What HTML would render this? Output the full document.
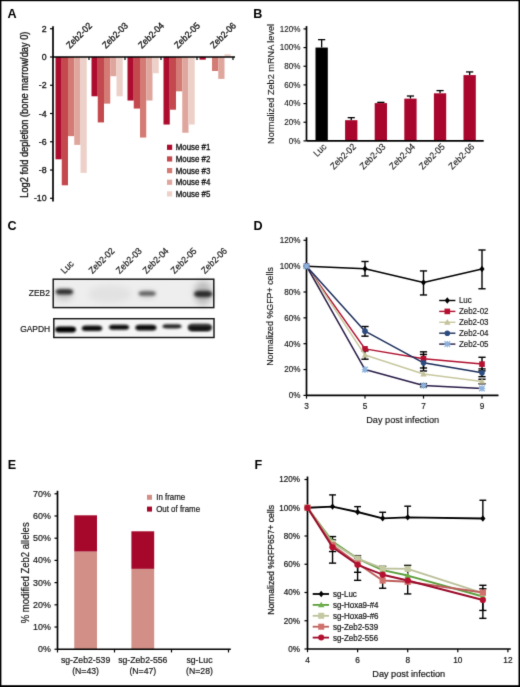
<!DOCTYPE html>
<html><head><meta charset="utf-8"><title>Figure</title>
<style>
html,body{margin:0;padding:0;background:#fff;}
body{width:520px;height:687px;overflow:hidden;}
svg{display:block;font-family:"Liberation Sans", sans-serif;}
text{stroke:#161616;}

</style></head>
<body>
<svg width="520" height="687" viewBox="0 0 520 687" font-family='"Liberation Sans", sans-serif'>
<defs><filter id="soft" filterUnits="userSpaceOnUse" x="0" y="0" width="520" height="687" color-interpolation-filters="sRGB"><feConvolveMatrix order="3" kernelMatrix="0.01134 0.08382 0.01134 0.08382 0.61935 0.08382 0.01134 0.08382 0.01134" divisor="1" edgeMode="duplicate"/></filter></defs>
<g filter="url(#soft)">
<rect x="0" y="0" width="520" height="687" fill="#fff"/>
<text x="7.60" y="18.10" font-size="12.6" text-anchor="start" font-weight="bold" fill="#000" stroke-width="0" >A</text>
<text x="253.30" y="18.10" font-size="12.6" text-anchor="start" font-weight="bold" fill="#000" stroke-width="0" >B</text>
<text x="7.60" y="229.50" font-size="12.6" text-anchor="start" font-weight="bold" fill="#000" stroke-width="0" >C</text>
<text x="253.50" y="230.20" font-size="12.6" text-anchor="start" font-weight="bold" fill="#000" stroke-width="0" >D</text>
<text x="7.80" y="468.80" font-size="12.6" text-anchor="start" font-weight="bold" fill="#000" stroke-width="0" >E</text>
<text x="254.60" y="468.80" font-size="12.6" text-anchor="start" font-weight="bold" fill="#000" stroke-width="0" >F</text>
<rect x="55.50" y="57.00" width="6.25" height="102.30" fill="#ad0c2e" />
<rect x="61.75" y="57.00" width="6.25" height="128.30" fill="#c4494f" />
<rect x="68.00" y="57.00" width="6.25" height="79.13" fill="#d37b74" />
<rect x="74.25" y="57.00" width="6.25" height="87.89" fill="#dfa69d" />
<rect x="80.50" y="57.00" width="6.25" height="115.87" fill="#edd1c9" />
<rect x="91.50" y="57.00" width="6.25" height="39.28" fill="#ad0c2e" />
<rect x="97.75" y="57.00" width="6.25" height="65.42" fill="#c4494f" />
<rect x="104.00" y="57.00" width="6.25" height="46.63" fill="#d37b74" />
<rect x="110.25" y="57.00" width="6.25" height="19.22" fill="#dfa69d" />
<rect x="116.50" y="57.00" width="6.25" height="39.28" fill="#edd1c9" />
<rect x="127.50" y="57.00" width="6.25" height="43.52" fill="#ad0c2e" />
<rect x="133.75" y="57.00" width="6.25" height="51.57" fill="#c4494f" />
<rect x="140.00" y="57.00" width="6.25" height="80.54" fill="#d37b74" />
<rect x="146.25" y="57.00" width="6.25" height="43.52" fill="#dfa69d" />
<rect x="152.50" y="57.00" width="6.25" height="16.25" fill="#edd1c9" />
<rect x="163.50" y="57.00" width="6.25" height="67.54" fill="#ad0c2e" />
<rect x="169.75" y="57.00" width="6.25" height="52.70" fill="#c4494f" />
<rect x="176.00" y="57.00" width="6.25" height="34.34" fill="#d37b74" />
<rect x="182.25" y="57.00" width="6.25" height="75.74" fill="#dfa69d" />
<rect x="188.50" y="57.00" width="6.25" height="67.54" fill="#edd1c9" />
<rect x="199.50" y="57.00" width="6.25" height="2.68" fill="#ad0c2e" />
<rect x="212.00" y="57.00" width="6.25" height="13.99" fill="#d37b74" />
<rect x="218.25" y="57.00" width="6.25" height="21.90" fill="#dfa69d" />
<rect x="224.50" y="54.17" width="6.25" height="2.83" fill="#edd1c9" />
<line x1="53.00" y1="26.24" x2="53.00" y2="201.50" stroke="#000" stroke-width="1.7" />
<line x1="50.00" y1="28.74" x2="53.00" y2="28.74" stroke="#000" stroke-width="1.2" />
<text x="46.60" y="31.74" font-size="9.50" textLength="4.89" lengthAdjust="spacingAndGlyphs" text-anchor="end" font-weight="normal" fill="#161616" stroke-width="0.34" >2</text>
<line x1="50.00" y1="57.00" x2="53.00" y2="57.00" stroke="#000" stroke-width="1.2" />
<text x="46.60" y="60.00" font-size="9.50" textLength="4.89" lengthAdjust="spacingAndGlyphs" text-anchor="end" font-weight="normal" fill="#161616" stroke-width="0.34" >0</text>
<line x1="50.00" y1="85.26" x2="53.00" y2="85.26" stroke="#000" stroke-width="1.2" />
<text x="46.60" y="88.26" font-size="9.50" textLength="7.83" lengthAdjust="spacingAndGlyphs" text-anchor="end" font-weight="normal" fill="#161616" stroke-width="0.34" >-2</text>
<line x1="50.00" y1="113.52" x2="53.00" y2="113.52" stroke="#000" stroke-width="1.2" />
<text x="46.60" y="116.52" font-size="9.50" textLength="7.83" lengthAdjust="spacingAndGlyphs" text-anchor="end" font-weight="normal" fill="#161616" stroke-width="0.34" >-4</text>
<line x1="50.00" y1="141.78" x2="53.00" y2="141.78" stroke="#000" stroke-width="1.2" />
<text x="46.60" y="144.78" font-size="9.50" textLength="7.83" lengthAdjust="spacingAndGlyphs" text-anchor="end" font-weight="normal" fill="#161616" stroke-width="0.34" >-6</text>
<line x1="50.00" y1="170.04" x2="53.00" y2="170.04" stroke="#000" stroke-width="1.2" />
<text x="46.60" y="173.04" font-size="9.50" textLength="7.83" lengthAdjust="spacingAndGlyphs" text-anchor="end" font-weight="normal" fill="#161616" stroke-width="0.34" >-8</text>
<line x1="50.00" y1="198.30" x2="53.00" y2="198.30" stroke="#000" stroke-width="1.2" />
<text x="46.60" y="201.30" font-size="9.50" textLength="12.72" lengthAdjust="spacingAndGlyphs" text-anchor="end" font-weight="normal" fill="#161616" stroke-width="0.34" >-10</text>
<line x1="53.00" y1="57.00" x2="235.00" y2="57.00" stroke="#000" stroke-width="1.7" />
<line x1="89.00" y1="57.00" x2="89.00" y2="60.00" stroke="#000" stroke-width="1.2" />
<line x1="125.00" y1="57.00" x2="125.00" y2="60.00" stroke="#000" stroke-width="1.2" />
<line x1="161.00" y1="57.00" x2="161.00" y2="60.00" stroke="#000" stroke-width="1.2" />
<line x1="197.00" y1="57.00" x2="197.00" y2="60.00" stroke="#000" stroke-width="1.2" />
<line x1="233.00" y1="57.00" x2="233.00" y2="60.00" stroke="#000" stroke-width="1.2" />
<text transform="translate(69.90,49.00) rotate(-45)" font-size="9.29" textLength="32.03" lengthAdjust="spacingAndGlyphs" text-anchor="start" fill="#161616" stroke-width="0.34">Zeb2-02</text>
<text transform="translate(105.90,49.00) rotate(-45)" font-size="9.29" textLength="32.03" lengthAdjust="spacingAndGlyphs" text-anchor="start" fill="#161616" stroke-width="0.34">Zeb2-03</text>
<text transform="translate(141.90,49.00) rotate(-45)" font-size="9.29" textLength="32.03" lengthAdjust="spacingAndGlyphs" text-anchor="start" fill="#161616" stroke-width="0.34">Zeb2-04</text>
<text transform="translate(177.90,49.00) rotate(-45)" font-size="9.29" textLength="32.03" lengthAdjust="spacingAndGlyphs" text-anchor="start" fill="#161616" stroke-width="0.34">Zeb2-05</text>
<text transform="translate(213.90,49.00) rotate(-45)" font-size="9.29" textLength="32.03" lengthAdjust="spacingAndGlyphs" text-anchor="start" fill="#161616" stroke-width="0.34">Zeb2-06</text>
<text transform="translate(28.30,114.70) rotate(-90)" font-size="9.99" textLength="166.09" lengthAdjust="spacingAndGlyphs" text-anchor="middle" fill="#161616" stroke-width="0.34">Log2 fold depletion (bone marrow/day 0)</text>
<rect x="167.00" y="144.70" width="5.20" height="5.20" fill="#ad0c2e" />
<text x="175.80" y="150.20" font-size="8.48" textLength="34.47" lengthAdjust="spacingAndGlyphs" text-anchor="start" font-weight="normal" fill="#161616" stroke-width="0.34" >Mouse #1</text>
<rect x="167.00" y="156.35" width="5.20" height="5.20" fill="#c4494f" />
<text x="175.80" y="161.85" font-size="8.48" textLength="34.47" lengthAdjust="spacingAndGlyphs" text-anchor="start" font-weight="normal" fill="#161616" stroke-width="0.34" >Mouse #2</text>
<rect x="167.00" y="168.00" width="5.20" height="5.20" fill="#d37b74" />
<text x="175.80" y="173.50" font-size="8.48" textLength="34.47" lengthAdjust="spacingAndGlyphs" text-anchor="start" font-weight="normal" fill="#161616" stroke-width="0.34" >Mouse #3</text>
<rect x="167.00" y="179.65" width="5.20" height="5.20" fill="#dfa69d" />
<text x="175.80" y="185.15" font-size="8.48" textLength="34.47" lengthAdjust="spacingAndGlyphs" text-anchor="start" font-weight="normal" fill="#161616" stroke-width="0.34" >Mouse #4</text>
<rect x="167.00" y="191.30" width="5.20" height="5.20" fill="#edd1c9" />
<text x="175.80" y="196.80" font-size="8.48" textLength="34.47" lengthAdjust="spacingAndGlyphs" text-anchor="start" font-weight="normal" fill="#161616" stroke-width="0.34" >Mouse #5</text>
<line x1="321.65" y1="39.64" x2="321.65" y2="47.57" stroke="#000" stroke-width="1.3" />
<line x1="318.05" y1="39.64" x2="325.25" y2="39.64" stroke="#000" stroke-width="1.3" />
<rect x="315.50" y="47.57" width="12.30" height="93.33" fill="#000" />
<text transform="translate(326.95,147.40) rotate(-45)" font-size="9.29" textLength="13.87" lengthAdjust="spacingAndGlyphs" text-anchor="end" fill="#161616" stroke-width="0.12">Luc</text>
<line x1="351.25" y1="117.66" x2="351.25" y2="120.18" stroke="#000" stroke-width="1.3" />
<line x1="347.65" y1="117.66" x2="354.85" y2="117.66" stroke="#000" stroke-width="1.3" />
<rect x="345.10" y="120.18" width="12.30" height="20.72" fill="#a8062c" />
<text transform="translate(356.55,147.40) rotate(-45)" font-size="9.29" textLength="32.03" lengthAdjust="spacingAndGlyphs" text-anchor="end" fill="#161616" stroke-width="0.12">Zeb2-02</text>
<line x1="380.85" y1="102.35" x2="380.85" y2="103.10" stroke="#000" stroke-width="1.3" />
<line x1="377.25" y1="102.35" x2="384.45" y2="102.35" stroke="#000" stroke-width="1.3" />
<rect x="374.70" y="103.10" width="12.30" height="37.80" fill="#a8062c" />
<text transform="translate(386.15,147.40) rotate(-45)" font-size="9.29" textLength="32.03" lengthAdjust="spacingAndGlyphs" text-anchor="end" fill="#161616" stroke-width="0.12">Zeb2-03</text>
<line x1="410.45" y1="96.01" x2="410.45" y2="98.62" stroke="#000" stroke-width="1.3" />
<line x1="406.85" y1="96.01" x2="414.05" y2="96.01" stroke="#000" stroke-width="1.3" />
<rect x="404.30" y="98.62" width="12.30" height="42.28" fill="#a8062c" />
<text transform="translate(415.75,147.40) rotate(-45)" font-size="9.29" textLength="32.03" lengthAdjust="spacingAndGlyphs" text-anchor="end" fill="#161616" stroke-width="0.12">Zeb2-04</text>
<line x1="440.05" y1="90.60" x2="440.05" y2="93.30" stroke="#000" stroke-width="1.3" />
<line x1="436.45" y1="90.60" x2="443.65" y2="90.60" stroke="#000" stroke-width="1.3" />
<rect x="433.90" y="93.30" width="12.30" height="47.60" fill="#a8062c" />
<text transform="translate(445.35,147.40) rotate(-45)" font-size="9.29" textLength="32.03" lengthAdjust="spacingAndGlyphs" text-anchor="end" fill="#161616" stroke-width="0.12">Zeb2-05</text>
<line x1="469.65" y1="71.93" x2="469.65" y2="75.10" stroke="#000" stroke-width="1.3" />
<line x1="466.05" y1="71.93" x2="473.25" y2="71.93" stroke="#000" stroke-width="1.3" />
<rect x="463.50" y="75.10" width="12.30" height="65.80" fill="#a8062c" />
<text transform="translate(474.95,147.40) rotate(-45)" font-size="9.29" textLength="32.03" lengthAdjust="spacingAndGlyphs" text-anchor="end" fill="#161616" stroke-width="0.12">Zeb2-06</text>
<line x1="306.50" y1="26.10" x2="306.50" y2="140.90" stroke="#000" stroke-width="1.7" />
<line x1="306.50" y1="140.90" x2="483.70" y2="140.90" stroke="#000" stroke-width="1.7" />
<line x1="303.50" y1="140.90" x2="306.50" y2="140.90" stroke="#000" stroke-width="1.2" />
<text x="300.40" y="143.80" font-size="8.75" textLength="11.71" lengthAdjust="spacingAndGlyphs" text-anchor="end" font-weight="normal" fill="#161616" stroke-width="0.12" >0%</text>
<line x1="303.50" y1="122.23" x2="306.50" y2="122.23" stroke="#000" stroke-width="1.2" />
<text x="300.40" y="125.13" font-size="8.75" textLength="16.21" lengthAdjust="spacingAndGlyphs" text-anchor="end" font-weight="normal" fill="#161616" stroke-width="0.12" >20%</text>
<line x1="303.50" y1="103.57" x2="306.50" y2="103.57" stroke="#000" stroke-width="1.2" />
<text x="300.40" y="106.47" font-size="8.75" textLength="16.21" lengthAdjust="spacingAndGlyphs" text-anchor="end" font-weight="normal" fill="#161616" stroke-width="0.12" >40%</text>
<line x1="303.50" y1="84.90" x2="306.50" y2="84.90" stroke="#000" stroke-width="1.2" />
<text x="300.40" y="87.80" font-size="8.75" textLength="16.21" lengthAdjust="spacingAndGlyphs" text-anchor="end" font-weight="normal" fill="#161616" stroke-width="0.12" >60%</text>
<line x1="303.50" y1="66.24" x2="306.50" y2="66.24" stroke="#000" stroke-width="1.2" />
<text x="300.40" y="69.14" font-size="8.75" textLength="16.21" lengthAdjust="spacingAndGlyphs" text-anchor="end" font-weight="normal" fill="#161616" stroke-width="0.12" >80%</text>
<line x1="303.50" y1="47.57" x2="306.50" y2="47.57" stroke="#000" stroke-width="1.2" />
<text x="300.40" y="50.47" font-size="8.75" textLength="20.72" lengthAdjust="spacingAndGlyphs" text-anchor="end" font-weight="normal" fill="#161616" stroke-width="0.12" >100%</text>
<line x1="303.50" y1="28.90" x2="306.50" y2="28.90" stroke="#000" stroke-width="1.2" />
<text x="300.40" y="31.80" font-size="8.75" textLength="20.72" lengthAdjust="spacingAndGlyphs" text-anchor="end" font-weight="normal" fill="#161616" stroke-width="0.12" >120%</text>
<text transform="translate(274.10,83.90) rotate(-90)" font-size="9.88" textLength="120.01" lengthAdjust="spacingAndGlyphs" text-anchor="middle" fill="#161616" stroke-width="0.12">Normalized Zeb2 mRNA level</text>
<defs><filter id="blur1" x="-50%" y="-50%" width="200%" height="200%"><feGaussianBlur stdDeviation="1.4"/></filter><filter id="blur2" x="-50%" y="-50%" width="200%" height="200%"><feGaussianBlur stdDeviation="0.9"/></filter><filter id="blur3" x="-50%" y="-50%" width="200%" height="200%"><feGaussianBlur stdDeviation="3"/></filter><filter id="blur4" x="-50%" y="-50%" width="200%" height="200%"><feGaussianBlur stdDeviation="1.5"/></filter><filter id="blur5" x="-50%" y="-50%" width="200%" height="200%"><feGaussianBlur stdDeviation="0.95"/></filter></defs>
<rect x="53.20" y="279.20" width="160.60" height="28.40" fill="#eeeeee" />
<ellipse cx="110" cy="294" rx="22" ry="9" fill="#e2e2e2" filter="url(#blur3)"/>
<ellipse cx="64" cy="295" rx="9" ry="5" fill="#c4c4c4" filter="url(#blur3)"/>
<ellipse cx="203" cy="293" rx="9" ry="12" fill="#bcbcbc" filter="url(#blur3)"/>
<ellipse cx="147" cy="294" rx="8" ry="4" fill="#cfcfcf" filter="url(#blur3)"/>
<rect x="55.60" y="289.00" width="17.60" height="5.60" rx="5.00" ry="2.80" fill="#2e2e2e" filter="url(#blur4)"/>
<rect x="138.60" y="291.20" width="17.20" height="4.60" rx="5.00" ry="2.30" fill="#5e5e5e" filter="url(#blur4)"/>
<rect x="194.00" y="290.80" width="18.40" height="6.40" rx="5.00" ry="3.20" fill="#2a2a2a" filter="url(#blur4)"/>
<rect x="53.2" y="279.2" width="160.6" height="28.4" fill="none" stroke="#161616" stroke-width="1.45"/>
<rect x="53.80" y="318.70" width="160.20" height="18.80" fill="#f5f5f5" />
<path d="M55.20 329.60 C55.20 327.20 57.36 326.60 60.61 326.60 L70.59 326.60 C73.84 326.60 76.00 327.20 76.00 329.60 C76.00 332.20 73.84 332.60 70.59 332.60 L60.61 332.60 C57.36 332.60 55.20 332.20 55.20 329.60Z" fill="#060606" filter="url(#blur5)"/>
<path d="M81.80 328.15 C81.80 326.00 83.92 325.40 87.10 325.40 L96.90 325.40 C100.08 325.40 102.20 326.00 102.20 328.15 C102.20 330.50 100.08 330.90 96.90 330.90 L87.10 330.90 C83.92 330.90 81.80 330.50 81.80 328.15Z" fill="#0e0e0e" filter="url(#blur5)"/>
<path d="M109.00 327.30 C109.00 325.40 111.09 324.80 114.23 324.80 L123.87 324.80 C127.01 324.80 129.10 325.40 129.10 327.30 C129.10 329.40 127.01 329.80 123.87 329.80 L114.23 329.80 C111.09 329.80 109.00 329.40 109.00 327.30Z" fill="#101010" filter="url(#blur5)"/>
<path d="M135.40 327.65 C135.40 325.40 137.58 324.80 140.86 324.80 L150.94 324.80 C154.22 324.80 156.40 325.40 156.40 327.65 C156.40 330.10 154.22 330.50 150.94 330.50 L140.86 330.50 C137.58 330.50 135.40 330.10 135.40 327.65Z" fill="#0a0a0a" filter="url(#blur5)"/>
<path d="M162.50 326.30 C162.50 324.80 164.48 324.20 167.44 324.20 L176.56 324.20 C179.52 324.20 181.50 324.80 181.50 326.30 C181.50 328.00 179.52 328.40 176.56 328.40 L167.44 328.40 C164.48 328.40 162.50 328.00 162.50 326.30Z" fill="#262626" filter="url(#blur5)"/>
<path d="M188.00 327.20 C188.00 324.00 190.46 323.40 194.16 323.40 L205.54 323.40 C209.24 323.40 211.70 324.00 211.70 327.20 C211.70 330.60 209.24 331.00 205.54 331.00 L194.16 331.00 C190.46 331.00 188.00 330.60 188.00 327.20Z" fill="#5a5a5a" filter="url(#blur5)"/>
<path d="M188.40 326.60 C188.40 326.20 190.78 325.60 194.35 325.60 L205.35 325.60 C208.92 325.60 211.30 326.20 211.30 326.60 C211.30 330.60 208.92 331.00 205.35 331.00 L194.35 331.00 C190.78 331.00 188.40 330.60 188.40 326.60Z" fill="#141414" filter="url(#blur5)"/>
<rect x="53.8" y="318.7" width="160.2" height="18.8" fill="none" stroke="#161616" stroke-width="1.45"/>
<text x="49.90" y="296.30" font-size="9.13" textLength="21.13" lengthAdjust="spacingAndGlyphs" text-anchor="end" font-weight="normal" fill="#161616" stroke-width="0.2" >ZEB2</text>
<text x="50.20" y="331.80" font-size="9.13" textLength="30.05" lengthAdjust="spacingAndGlyphs" text-anchor="end" font-weight="normal" fill="#161616" stroke-width="0.2" >GAPDH</text>
<text transform="translate(64.50,274.20) rotate(-45)" font-size="9.29" textLength="13.87" lengthAdjust="spacingAndGlyphs" text-anchor="start" fill="#161616" stroke-width="0.2">Luc</text>
<text transform="translate(92.40,274.20) rotate(-45)" font-size="9.29" textLength="32.03" lengthAdjust="spacingAndGlyphs" text-anchor="start" fill="#161616" stroke-width="0.2">Zeb2-02</text>
<text transform="translate(119.80,274.20) rotate(-45)" font-size="9.29" textLength="32.03" lengthAdjust="spacingAndGlyphs" text-anchor="start" fill="#161616" stroke-width="0.2">Zeb2-03</text>
<text transform="translate(146.50,274.20) rotate(-45)" font-size="9.29" textLength="32.03" lengthAdjust="spacingAndGlyphs" text-anchor="start" fill="#161616" stroke-width="0.2">Zeb2-04</text>
<text transform="translate(174.60,274.20) rotate(-45)" font-size="9.29" textLength="32.03" lengthAdjust="spacingAndGlyphs" text-anchor="start" fill="#161616" stroke-width="0.2">Zeb2-05</text>
<text transform="translate(204.90,274.20) rotate(-45)" font-size="9.29" textLength="32.03" lengthAdjust="spacingAndGlyphs" text-anchor="start" fill="#161616" stroke-width="0.2">Zeb2-06</text>
<line x1="306.50" y1="237.30" x2="306.50" y2="395.40" stroke="#000" stroke-width="1.7" />
<line x1="306.50" y1="395.40" x2="498.50" y2="395.40" stroke="#000" stroke-width="1.7" />
<line x1="303.50" y1="395.40" x2="306.50" y2="395.40" stroke="#000" stroke-width="1.2" />
<text x="300.40" y="398.30" font-size="8.75" textLength="11.71" lengthAdjust="spacingAndGlyphs" text-anchor="end" font-weight="normal" fill="#161616" stroke-width="0.16" >0%</text>
<line x1="303.50" y1="369.55" x2="306.50" y2="369.55" stroke="#000" stroke-width="1.2" />
<text x="300.40" y="372.45" font-size="8.75" textLength="16.21" lengthAdjust="spacingAndGlyphs" text-anchor="end" font-weight="normal" fill="#161616" stroke-width="0.16" >20%</text>
<line x1="303.50" y1="343.70" x2="306.50" y2="343.70" stroke="#000" stroke-width="1.2" />
<text x="300.40" y="346.60" font-size="8.75" textLength="16.21" lengthAdjust="spacingAndGlyphs" text-anchor="end" font-weight="normal" fill="#161616" stroke-width="0.16" >40%</text>
<line x1="303.50" y1="317.85" x2="306.50" y2="317.85" stroke="#000" stroke-width="1.2" />
<text x="300.40" y="320.75" font-size="8.75" textLength="16.21" lengthAdjust="spacingAndGlyphs" text-anchor="end" font-weight="normal" fill="#161616" stroke-width="0.16" >60%</text>
<line x1="303.50" y1="292.00" x2="306.50" y2="292.00" stroke="#000" stroke-width="1.2" />
<text x="300.40" y="294.90" font-size="8.75" textLength="16.21" lengthAdjust="spacingAndGlyphs" text-anchor="end" font-weight="normal" fill="#161616" stroke-width="0.16" >80%</text>
<line x1="303.50" y1="266.15" x2="306.50" y2="266.15" stroke="#000" stroke-width="1.2" />
<text x="300.40" y="269.05" font-size="8.75" textLength="20.72" lengthAdjust="spacingAndGlyphs" text-anchor="end" font-weight="normal" fill="#161616" stroke-width="0.16" >100%</text>
<line x1="303.50" y1="240.30" x2="306.50" y2="240.30" stroke="#000" stroke-width="1.2" />
<text x="300.40" y="243.20" font-size="8.75" textLength="20.72" lengthAdjust="spacingAndGlyphs" text-anchor="end" font-weight="normal" fill="#161616" stroke-width="0.16" >120%</text>
<line x1="306.50" y1="395.40" x2="306.50" y2="398.60" stroke="#000" stroke-width="1.2" />
<text x="306.50" y="408.80" font-size="8.96" textLength="4.62" lengthAdjust="spacingAndGlyphs" text-anchor="middle" font-weight="normal" fill="#161616" stroke-width="0.16" >3</text>
<line x1="365.00" y1="395.40" x2="365.00" y2="398.60" stroke="#000" stroke-width="1.2" />
<text x="365.00" y="408.80" font-size="8.96" textLength="4.62" lengthAdjust="spacingAndGlyphs" text-anchor="middle" font-weight="normal" fill="#161616" stroke-width="0.16" >5</text>
<line x1="423.50" y1="395.40" x2="423.50" y2="398.60" stroke="#000" stroke-width="1.2" />
<text x="423.50" y="408.80" font-size="8.96" textLength="4.62" lengthAdjust="spacingAndGlyphs" text-anchor="middle" font-weight="normal" fill="#161616" stroke-width="0.16" >7</text>
<line x1="482.00" y1="395.40" x2="482.00" y2="398.60" stroke="#000" stroke-width="1.2" />
<text x="482.00" y="408.80" font-size="8.96" textLength="4.62" lengthAdjust="spacingAndGlyphs" text-anchor="middle" font-weight="normal" fill="#161616" stroke-width="0.16" >9</text>
<text x="402.70" y="423.00" font-size="9.91" textLength="72.97" lengthAdjust="spacingAndGlyphs" text-anchor="middle" font-weight="normal" fill="#161616" stroke-width="0.16" >Day post infection</text>
<text transform="translate(273.30,316.50) rotate(-90)" font-size="9.57" textLength="98.72" lengthAdjust="spacingAndGlyphs" text-anchor="middle" fill="#161616" stroke-width="0.16">Normalized %GFP+ cells</text>
<line x1="365.00" y1="261.50" x2="365.00" y2="275.97" stroke="#000" stroke-width="1.4" />
<line x1="361.40" y1="261.50" x2="368.60" y2="261.50" stroke="#000" stroke-width="1.4" />
<line x1="361.40" y1="275.97" x2="368.60" y2="275.97" stroke="#000" stroke-width="1.4" />
<line x1="423.50" y1="270.93" x2="423.50" y2="294.97" stroke="#000" stroke-width="1.4" />
<line x1="419.90" y1="270.93" x2="427.10" y2="270.93" stroke="#000" stroke-width="1.4" />
<line x1="419.90" y1="294.97" x2="427.10" y2="294.97" stroke="#000" stroke-width="1.4" />
<line x1="482.00" y1="249.99" x2="482.00" y2="288.77" stroke="#000" stroke-width="1.4" />
<line x1="478.40" y1="249.99" x2="485.60" y2="249.99" stroke="#000" stroke-width="1.4" />
<line x1="478.40" y1="288.77" x2="485.60" y2="288.77" stroke="#000" stroke-width="1.4" />
<line x1="365.00" y1="326.51" x2="365.00" y2="336.20" stroke="#000" stroke-width="1.4" />
<line x1="361.40" y1="326.51" x2="368.60" y2="326.51" stroke="#000" stroke-width="1.4" />
<line x1="361.40" y1="336.20" x2="368.60" y2="336.20" stroke="#000" stroke-width="1.4" />
<line x1="365.00" y1="350.81" x2="365.00" y2="359.21" stroke="#000" stroke-width="1.4" />
<line x1="361.40" y1="350.81" x2="368.60" y2="350.81" stroke="#000" stroke-width="1.4" />
<line x1="361.40" y1="359.21" x2="368.60" y2="359.21" stroke="#000" stroke-width="1.4" />
<line x1="423.50" y1="351.84" x2="423.50" y2="368.00" stroke="#000" stroke-width="1.4" />
<line x1="419.90" y1="351.84" x2="427.10" y2="351.84" stroke="#000" stroke-width="1.4" />
<line x1="419.90" y1="368.00" x2="427.10" y2="368.00" stroke="#000" stroke-width="1.4" />
<line x1="423.50" y1="354.43" x2="423.50" y2="370.97" stroke="#000" stroke-width="1.4" />
<line x1="419.90" y1="354.43" x2="427.10" y2="354.43" stroke="#000" stroke-width="1.4" />
<line x1="419.90" y1="370.97" x2="427.10" y2="370.97" stroke="#000" stroke-width="1.4" />
<line x1="482.00" y1="357.27" x2="482.00" y2="370.84" stroke="#000" stroke-width="1.4" />
<line x1="478.40" y1="357.27" x2="485.60" y2="357.27" stroke="#000" stroke-width="1.4" />
<line x1="478.40" y1="370.84" x2="485.60" y2="370.84" stroke="#000" stroke-width="1.4" />
<line x1="482.00" y1="368.90" x2="482.00" y2="376.66" stroke="#000" stroke-width="1.4" />
<line x1="478.40" y1="368.90" x2="485.60" y2="368.90" stroke="#000" stroke-width="1.4" />
<line x1="478.40" y1="376.66" x2="485.60" y2="376.66" stroke="#000" stroke-width="1.4" />
<line x1="482.00" y1="379.24" x2="482.00" y2="383.77" stroke="#000" stroke-width="1.4" />
<line x1="478.40" y1="379.24" x2="485.60" y2="379.24" stroke="#000" stroke-width="1.4" />
<line x1="478.40" y1="383.77" x2="485.60" y2="383.77" stroke="#000" stroke-width="1.4" />
<line x1="423.50" y1="383.77" x2="423.50" y2="387.00" stroke="#000" stroke-width="1.4" />
<line x1="419.90" y1="383.77" x2="427.10" y2="383.77" stroke="#000" stroke-width="1.4" />
<line x1="419.90" y1="387.00" x2="427.10" y2="387.00" stroke="#000" stroke-width="1.4" />
<polyline points="306.50,266.15 365.00,268.74 423.50,282.56 482.00,268.99" fill="none" stroke="#000000" stroke-width="1.5" stroke-linejoin="round"/>
<path d="M306.50 262.95 L309.10 266.15 L306.50 269.35 L303.90 266.15Z" fill="#000000"/>
<path d="M365.00 265.54 L367.60 268.74 L365.00 271.94 L362.40 268.74Z" fill="#000000"/>
<path d="M423.50 279.36 L426.10 282.56 L423.50 285.76 L420.90 282.56Z" fill="#000000"/>
<path d="M482.00 265.79 L484.60 268.99 L482.00 272.19 L479.40 268.99Z" fill="#000000"/>
<polyline points="306.50,266.15 365.00,348.87 423.50,358.69 482.00,364.12" fill="none" stroke="#b0102f" stroke-width="1.5" stroke-linejoin="round"/>
<rect x="303.70" y="263.35" width="5.60" height="5.60" fill="#b5102f"/>
<rect x="362.20" y="346.07" width="5.60" height="5.60" fill="#b5102f"/>
<rect x="420.70" y="355.89" width="5.60" height="5.60" fill="#b5102f"/>
<rect x="479.20" y="361.32" width="5.60" height="5.60" fill="#b5102f"/>
<polyline points="306.50,266.15 365.00,355.07 423.50,374.07 482.00,381.44" fill="none" stroke="#c8c79e" stroke-width="1.5" stroke-linejoin="round"/>
<path d="M306.50 262.95 L309.70 268.55 L303.30 268.55Z" fill="#c3c29a"/>
<path d="M365.00 351.87 L368.20 357.47 L361.80 357.47Z" fill="#c3c29a"/>
<path d="M423.50 370.87 L426.70 376.47 L420.30 376.47Z" fill="#c3c29a"/>
<path d="M482.00 378.24 L485.20 383.84 L478.80 383.84Z" fill="#c3c29a"/>
<polyline points="306.50,266.15 365.00,331.16 423.50,362.83 482.00,372.78" fill="none" stroke="#1c2f5a" stroke-width="1.5" stroke-linejoin="round"/>
<circle cx="306.50" cy="266.15" r="2.80" fill="#2c4c80"/>
<circle cx="365.00" cy="331.16" r="2.80" fill="#2c4c80"/>
<circle cx="423.50" cy="362.83" r="2.80" fill="#2c4c80"/>
<circle cx="482.00" cy="372.78" r="2.80" fill="#2c4c80"/>
<polyline points="306.50,266.15 365.00,369.55 423.50,385.45 482.00,388.42" fill="none" stroke="#2a1c48" stroke-width="1.5" stroke-linejoin="round"/>
<path d="M303.70 263.35 L309.30 268.95 M309.30 263.35 L303.70 268.95 M306.50 262.95 L306.50 269.35 M303.30 266.15 L309.70 266.15" stroke="#8db3dd" stroke-width="1.3" fill="none"/>
<rect x="304.50" y="264.15" width="4" height="4" fill="#8db3dd" opacity="0.6"/>
<path d="M362.20 366.75 L367.80 372.35 M367.80 366.75 L362.20 372.35 M365.00 366.35 L365.00 372.75 M361.80 369.55 L368.20 369.55" stroke="#8db3dd" stroke-width="1.3" fill="none"/>
<rect x="363.00" y="367.55" width="4" height="4" fill="#8db3dd" opacity="0.6"/>
<path d="M420.70 382.65 L426.30 388.25 M426.30 382.65 L420.70 388.25 M423.50 382.25 L423.50 388.65 M420.30 385.45 L426.70 385.45" stroke="#8db3dd" stroke-width="1.3" fill="none"/>
<rect x="421.50" y="383.45" width="4" height="4" fill="#8db3dd" opacity="0.6"/>
<path d="M479.20 385.62 L484.80 391.22 M484.80 385.62 L479.20 391.22 M482.00 385.22 L482.00 391.62 M478.80 388.42 L485.20 388.42" stroke="#8db3dd" stroke-width="1.3" fill="none"/>
<rect x="480.00" y="386.42" width="4" height="4" fill="#8db3dd" opacity="0.6"/>
<line x1="439.20" y1="300.50" x2="455.40" y2="300.50" stroke="#000000" stroke-width="1.4" />
<path d="M447.30 297.30 L449.90 300.50 L447.30 303.70 L444.70 300.50Z" fill="#000000"/>
<text x="458.90" y="303.40" font-size="8.59" textLength="12.82" lengthAdjust="spacingAndGlyphs" text-anchor="start" font-weight="normal" fill="#161616" stroke-width="0.16" >Luc</text>
<line x1="439.20" y1="311.40" x2="455.40" y2="311.40" stroke="#b0102f" stroke-width="1.4" />
<rect x="444.50" y="308.60" width="5.60" height="5.60" fill="#b5102f"/>
<text x="458.90" y="314.30" font-size="8.59" textLength="29.61" lengthAdjust="spacingAndGlyphs" text-anchor="start" font-weight="normal" fill="#161616" stroke-width="0.16" >Zeb2-02</text>
<line x1="439.20" y1="322.30" x2="455.40" y2="322.30" stroke="#c8c79e" stroke-width="1.4" />
<path d="M447.30 319.10 L450.50 324.70 L444.10 324.70Z" fill="#c3c29a"/>
<text x="458.90" y="325.20" font-size="8.59" textLength="29.61" lengthAdjust="spacingAndGlyphs" text-anchor="start" font-weight="normal" fill="#161616" stroke-width="0.16" >Zeb2-03</text>
<line x1="439.20" y1="333.20" x2="455.40" y2="333.20" stroke="#1c2f5a" stroke-width="1.4" />
<circle cx="447.30" cy="333.20" r="2.80" fill="#2c4c80"/>
<text x="458.90" y="336.10" font-size="8.59" textLength="29.61" lengthAdjust="spacingAndGlyphs" text-anchor="start" font-weight="normal" fill="#161616" stroke-width="0.16" >Zeb2-04</text>
<line x1="439.20" y1="344.10" x2="455.40" y2="344.10" stroke="#2a1c48" stroke-width="1.4" />
<path d="M444.50 341.30 L450.10 346.90 M450.10 341.30 L444.50 346.90 M447.30 340.90 L447.30 347.30 M444.10 344.10 L450.50 344.10" stroke="#8db3dd" stroke-width="1.3" fill="none"/>
<rect x="445.30" y="342.10" width="4" height="4" fill="#8db3dd" opacity="0.6"/>
<text x="458.90" y="347.00" font-size="8.59" textLength="29.61" lengthAdjust="spacingAndGlyphs" text-anchor="start" font-weight="normal" fill="#161616" stroke-width="0.16" >Zeb2-05</text>
<rect x="74.25" y="551.53" width="22.75" height="97.72" fill="#d18f87" />
<rect x="74.25" y="515.32" width="22.75" height="36.20" fill="#a5082b" />
<rect x="131.40" y="568.85" width="22.80" height="80.40" fill="#d18f87" />
<rect x="131.40" y="531.31" width="22.80" height="37.53" fill="#a5082b" />
<line x1="57.50" y1="490.78" x2="57.50" y2="649.25" stroke="#000" stroke-width="1.7" />
<line x1="57.50" y1="649.25" x2="230.80" y2="649.25" stroke="#000" stroke-width="1.7" />
<line x1="54.50" y1="649.25" x2="57.50" y2="649.25" stroke="#000" stroke-width="1.2" />
<text x="50.80" y="652.25" font-size="9.61" textLength="12.86" lengthAdjust="spacingAndGlyphs" text-anchor="end" font-weight="normal" fill="#161616" stroke-width="0.2" >0%</text>
<line x1="54.50" y1="627.04" x2="57.50" y2="627.04" stroke="#000" stroke-width="1.2" />
<text x="50.80" y="630.04" font-size="9.61" textLength="17.81" lengthAdjust="spacingAndGlyphs" text-anchor="end" font-weight="normal" fill="#161616" stroke-width="0.2" >10%</text>
<line x1="54.50" y1="604.83" x2="57.50" y2="604.83" stroke="#000" stroke-width="1.2" />
<text x="50.80" y="607.83" font-size="9.61" textLength="17.81" lengthAdjust="spacingAndGlyphs" text-anchor="end" font-weight="normal" fill="#161616" stroke-width="0.2" >20%</text>
<line x1="54.50" y1="582.62" x2="57.50" y2="582.62" stroke="#000" stroke-width="1.2" />
<text x="50.80" y="585.62" font-size="9.61" textLength="17.81" lengthAdjust="spacingAndGlyphs" text-anchor="end" font-weight="normal" fill="#161616" stroke-width="0.2" >30%</text>
<line x1="54.50" y1="560.41" x2="57.50" y2="560.41" stroke="#000" stroke-width="1.2" />
<text x="50.80" y="563.41" font-size="9.61" textLength="17.81" lengthAdjust="spacingAndGlyphs" text-anchor="end" font-weight="normal" fill="#161616" stroke-width="0.2" >40%</text>
<line x1="54.50" y1="538.20" x2="57.50" y2="538.20" stroke="#000" stroke-width="1.2" />
<text x="50.80" y="541.20" font-size="9.61" textLength="17.81" lengthAdjust="spacingAndGlyphs" text-anchor="end" font-weight="normal" fill="#161616" stroke-width="0.2" >50%</text>
<line x1="54.50" y1="515.99" x2="57.50" y2="515.99" stroke="#000" stroke-width="1.2" />
<text x="50.80" y="518.99" font-size="9.61" textLength="17.81" lengthAdjust="spacingAndGlyphs" text-anchor="end" font-weight="normal" fill="#161616" stroke-width="0.2" >60%</text>
<line x1="54.50" y1="493.78" x2="57.50" y2="493.78" stroke="#000" stroke-width="1.2" />
<text x="50.80" y="496.78" font-size="9.61" textLength="17.81" lengthAdjust="spacingAndGlyphs" text-anchor="end" font-weight="normal" fill="#161616" stroke-width="0.2" >70%</text>
<line x1="57.50" y1="649.25" x2="57.50" y2="652.45" stroke="#000" stroke-width="1.2" />
<line x1="114.50" y1="649.25" x2="114.50" y2="652.45" stroke="#000" stroke-width="1.2" />
<line x1="171.50" y1="649.25" x2="171.50" y2="652.45" stroke="#000" stroke-width="1.2" />
<line x1="228.50" y1="649.25" x2="228.50" y2="652.45" stroke="#000" stroke-width="1.2" />
<text x="85.60" y="663.00" font-size="9.40" textLength="49.33" lengthAdjust="spacingAndGlyphs" text-anchor="middle" font-weight="normal" fill="#161616" stroke-width="0.2" >sg-Zeb2-539</text>
<text x="85.60" y="674.30" font-size="9.40" textLength="26.84" lengthAdjust="spacingAndGlyphs" text-anchor="middle" font-weight="normal" fill="#161616" stroke-width="0.2" >(N=43)</text>
<text x="142.80" y="663.00" font-size="9.40" textLength="49.33" lengthAdjust="spacingAndGlyphs" text-anchor="middle" font-weight="normal" fill="#161616" stroke-width="0.2" >sg-Zeb2-556</text>
<text x="142.80" y="674.30" font-size="9.40" textLength="26.84" lengthAdjust="spacingAndGlyphs" text-anchor="middle" font-weight="normal" fill="#161616" stroke-width="0.2" >(N=47)</text>
<text x="199.50" y="663.00" font-size="9.40" textLength="26.11" lengthAdjust="spacingAndGlyphs" text-anchor="middle" font-weight="normal" fill="#161616" stroke-width="0.2" >sg-Luc</text>
<text x="199.50" y="674.30" font-size="9.40" textLength="26.84" lengthAdjust="spacingAndGlyphs" text-anchor="middle" font-weight="normal" fill="#161616" stroke-width="0.2" >(N=28)</text>
<text transform="translate(28.60,572.80) rotate(-90)" font-size="10.26" textLength="100.86" lengthAdjust="spacingAndGlyphs" text-anchor="middle" fill="#161616" stroke-width="0.2">% modified Zeb2 alleles</text>
<rect x="147.00" y="494.80" width="5.00" height="5.00" fill="#d18f87" />
<rect x="147.00" y="506.60" width="5.00" height="5.00" fill="#a5082b" />
<text x="156.20" y="500.20" font-size="8.53" textLength="28.98" lengthAdjust="spacingAndGlyphs" text-anchor="start" font-weight="normal" fill="#161616" stroke-width="0.2" >In frame</text>
<text x="156.20" y="512.00" font-size="8.53" textLength="43.91" lengthAdjust="spacingAndGlyphs" text-anchor="start" font-weight="normal" fill="#161616" stroke-width="0.2" >Out of frame</text>
<line x1="307.50" y1="476.50" x2="307.50" y2="649.00" stroke="#000" stroke-width="1.7" />
<line x1="307.50" y1="649.00" x2="510.80" y2="649.00" stroke="#000" stroke-width="1.7" />
<line x1="304.50" y1="649.00" x2="307.50" y2="649.00" stroke="#000" stroke-width="1.2" />
<text x="300.00" y="651.90" font-size="8.75" textLength="11.71" lengthAdjust="spacingAndGlyphs" text-anchor="end" font-weight="normal" fill="#161616" stroke-width="0.22" >0%</text>
<line x1="304.50" y1="620.75" x2="307.50" y2="620.75" stroke="#000" stroke-width="1.2" />
<text x="300.00" y="623.65" font-size="8.75" textLength="16.21" lengthAdjust="spacingAndGlyphs" text-anchor="end" font-weight="normal" fill="#161616" stroke-width="0.22" >20%</text>
<line x1="304.50" y1="592.50" x2="307.50" y2="592.50" stroke="#000" stroke-width="1.2" />
<text x="300.00" y="595.40" font-size="8.75" textLength="16.21" lengthAdjust="spacingAndGlyphs" text-anchor="end" font-weight="normal" fill="#161616" stroke-width="0.22" >40%</text>
<line x1="304.50" y1="564.25" x2="307.50" y2="564.25" stroke="#000" stroke-width="1.2" />
<text x="300.00" y="567.15" font-size="8.75" textLength="16.21" lengthAdjust="spacingAndGlyphs" text-anchor="end" font-weight="normal" fill="#161616" stroke-width="0.22" >60%</text>
<line x1="304.50" y1="536.00" x2="307.50" y2="536.00" stroke="#000" stroke-width="1.2" />
<text x="300.00" y="538.90" font-size="8.75" textLength="16.21" lengthAdjust="spacingAndGlyphs" text-anchor="end" font-weight="normal" fill="#161616" stroke-width="0.22" >80%</text>
<line x1="304.50" y1="507.75" x2="307.50" y2="507.75" stroke="#000" stroke-width="1.2" />
<text x="300.00" y="510.65" font-size="8.75" textLength="20.72" lengthAdjust="spacingAndGlyphs" text-anchor="end" font-weight="normal" fill="#161616" stroke-width="0.22" >100%</text>
<line x1="304.50" y1="479.50" x2="307.50" y2="479.50" stroke="#000" stroke-width="1.2" />
<text x="300.00" y="482.40" font-size="8.75" textLength="20.72" lengthAdjust="spacingAndGlyphs" text-anchor="end" font-weight="normal" fill="#161616" stroke-width="0.22" >120%</text>
<line x1="307.50" y1="649.00" x2="307.50" y2="652.20" stroke="#000" stroke-width="1.2" />
<text x="307.50" y="663.00" font-size="8.96" textLength="4.62" lengthAdjust="spacingAndGlyphs" text-anchor="middle" font-weight="normal" fill="#161616" stroke-width="0.22" >4</text>
<line x1="357.60" y1="649.00" x2="357.60" y2="652.20" stroke="#000" stroke-width="1.2" />
<text x="357.60" y="663.00" font-size="8.96" textLength="4.62" lengthAdjust="spacingAndGlyphs" text-anchor="middle" font-weight="normal" fill="#161616" stroke-width="0.22" >6</text>
<line x1="407.70" y1="649.00" x2="407.70" y2="652.20" stroke="#000" stroke-width="1.2" />
<text x="407.70" y="663.00" font-size="8.96" textLength="4.62" lengthAdjust="spacingAndGlyphs" text-anchor="middle" font-weight="normal" fill="#161616" stroke-width="0.22" >8</text>
<line x1="457.80" y1="649.00" x2="457.80" y2="652.20" stroke="#000" stroke-width="1.2" />
<text x="457.80" y="663.00" font-size="8.96" textLength="9.23" lengthAdjust="spacingAndGlyphs" text-anchor="middle" font-weight="normal" fill="#161616" stroke-width="0.22" >10</text>
<line x1="507.90" y1="649.00" x2="507.90" y2="652.20" stroke="#000" stroke-width="1.2" />
<text x="507.90" y="663.00" font-size="8.96" textLength="9.23" lengthAdjust="spacingAndGlyphs" text-anchor="middle" font-weight="normal" fill="#161616" stroke-width="0.22" >12</text>
<text x="408.75" y="676.90" font-size="9.91" textLength="72.97" lengthAdjust="spacingAndGlyphs" text-anchor="middle" font-weight="normal" fill="#161616" stroke-width="0.22" >Day post infection</text>
<text transform="translate(274.00,559.90) rotate(-90)" font-size="9.29" textLength="109.70" lengthAdjust="spacingAndGlyphs" text-anchor="middle" fill="#161616" stroke-width="0.22">Normalized %RFP657+ cells</text>
<line x1="332.55" y1="506.62" x2="332.55" y2="494.90" stroke="#000" stroke-width="1.4" />
<line x1="329.15" y1="494.90" x2="335.95" y2="494.90" stroke="#000" stroke-width="1.4" />
<line x1="357.60" y1="511.99" x2="357.60" y2="506.62" stroke="#000" stroke-width="1.4" />
<line x1="354.20" y1="506.62" x2="361.00" y2="506.62" stroke="#000" stroke-width="1.4" />
<line x1="382.65" y1="518.34" x2="382.65" y2="512.27" stroke="#000" stroke-width="1.4" />
<line x1="379.25" y1="512.27" x2="386.05" y2="512.27" stroke="#000" stroke-width="1.4" />
<line x1="407.70" y1="517.36" x2="407.70" y2="506.20" stroke="#000" stroke-width="1.4" />
<line x1="404.30" y1="506.20" x2="411.10" y2="506.20" stroke="#000" stroke-width="1.4" />
<line x1="482.85" y1="518.49" x2="482.85" y2="500.26" stroke="#000" stroke-width="1.4" />
<line x1="479.45" y1="500.26" x2="486.25" y2="500.26" stroke="#000" stroke-width="1.4" />
<line x1="332.55" y1="536.57" x2="332.55" y2="551.54" stroke="#000" stroke-width="1.4" />
<line x1="328.95" y1="536.57" x2="336.15" y2="536.57" stroke="#000" stroke-width="1.4" />
<line x1="328.95" y1="551.54" x2="336.15" y2="551.54" stroke="#000" stroke-width="1.4" />
<line x1="332.55" y1="539.95" x2="332.55" y2="563.12" stroke="#000" stroke-width="1.4" />
<line x1="328.95" y1="539.95" x2="336.15" y2="539.95" stroke="#000" stroke-width="1.4" />
<line x1="328.95" y1="563.12" x2="336.15" y2="563.12" stroke="#000" stroke-width="1.4" />
<line x1="357.60" y1="555.63" x2="357.60" y2="572.30" stroke="#000" stroke-width="1.4" />
<line x1="354.00" y1="555.63" x2="361.20" y2="555.63" stroke="#000" stroke-width="1.4" />
<line x1="354.00" y1="572.30" x2="361.20" y2="572.30" stroke="#000" stroke-width="1.4" />
<line x1="357.60" y1="557.89" x2="357.60" y2="580.35" stroke="#000" stroke-width="1.4" />
<line x1="354.00" y1="557.89" x2="361.20" y2="557.89" stroke="#000" stroke-width="1.4" />
<line x1="354.00" y1="580.35" x2="361.20" y2="580.35" stroke="#000" stroke-width="1.4" />
<line x1="382.65" y1="566.37" x2="382.65" y2="588.26" stroke="#000" stroke-width="1.4" />
<line x1="379.05" y1="566.37" x2="386.25" y2="566.37" stroke="#000" stroke-width="1.4" />
<line x1="379.05" y1="588.26" x2="386.25" y2="588.26" stroke="#000" stroke-width="1.4" />
<line x1="407.70" y1="565.38" x2="407.70" y2="593.91" stroke="#000" stroke-width="1.4" />
<line x1="404.10" y1="565.38" x2="411.30" y2="565.38" stroke="#000" stroke-width="1.4" />
<line x1="404.10" y1="593.91" x2="411.30" y2="593.91" stroke="#000" stroke-width="1.4" />
<line x1="482.85" y1="585.30" x2="482.85" y2="610.44" stroke="#000" stroke-width="1.4" />
<line x1="479.25" y1="585.30" x2="486.45" y2="585.30" stroke="#000" stroke-width="1.4" />
<line x1="479.25" y1="610.44" x2="486.45" y2="610.44" stroke="#000" stroke-width="1.4" />
<line x1="482.85" y1="588.83" x2="482.85" y2="618.35" stroke="#000" stroke-width="1.4" />
<line x1="479.25" y1="588.83" x2="486.45" y2="588.83" stroke="#000" stroke-width="1.4" />
<line x1="479.25" y1="618.35" x2="486.45" y2="618.35" stroke="#000" stroke-width="1.4" />
<polyline points="307.50,507.75 332.55,506.62 357.60,511.99 382.65,518.34 407.70,517.36 482.85,518.49" fill="none" stroke="#000000" stroke-width="1.9" stroke-linejoin="round"/>
<path d="M307.50 504.55 L310.10 507.75 L307.50 510.95 L304.90 507.75Z" fill="#000000"/>
<path d="M332.55 503.42 L335.15 506.62 L332.55 509.82 L329.95 506.62Z" fill="#000000"/>
<path d="M357.60 508.79 L360.20 511.99 L357.60 515.19 L355.00 511.99Z" fill="#000000"/>
<path d="M382.65 515.14 L385.25 518.34 L382.65 521.54 L380.05 518.34Z" fill="#000000"/>
<path d="M407.70 514.15 L410.30 517.36 L407.70 520.56 L405.10 517.36Z" fill="#000000"/>
<path d="M482.85 515.28 L485.45 518.49 L482.85 521.69 L480.25 518.49Z" fill="#000000"/>
<polyline points="307.50,507.75 332.55,541.65 357.60,558.60 382.65,570.18 407.70,575.55 482.85,596.46" fill="none" stroke="#5c9e3c" stroke-width="1.9" stroke-linejoin="round"/>
<path d="M307.50 504.55 L310.70 510.15 L304.30 510.15Z" fill="#6cb04a"/>
<path d="M332.55 538.45 L335.75 544.05 L329.35 544.05Z" fill="#6cb04a"/>
<path d="M357.60 555.40 L360.80 561.00 L354.40 561.00Z" fill="#6cb04a"/>
<path d="M382.65 566.98 L385.85 572.58 L379.45 572.58Z" fill="#6cb04a"/>
<path d="M407.70 572.35 L410.90 577.95 L404.50 577.95Z" fill="#6cb04a"/>
<path d="M482.85 593.25 L486.05 598.86 L479.65 598.86Z" fill="#6cb04a"/>
<polyline points="307.50,507.75 332.55,543.06 357.60,558.60 382.65,568.49 407.70,568.91 482.85,593.07" fill="none" stroke="#bcc09a" stroke-width="1.9" stroke-linejoin="round"/>
<rect x="304.40" y="504.65" width="6.20" height="6.20" fill="#c5c9a2"/>
<rect x="329.45" y="539.96" width="6.20" height="6.20" fill="#c5c9a2"/>
<rect x="354.50" y="555.50" width="6.20" height="6.20" fill="#c5c9a2"/>
<rect x="379.55" y="565.39" width="6.20" height="6.20" fill="#c5c9a2"/>
<rect x="404.60" y="565.81" width="6.20" height="6.20" fill="#c5c9a2"/>
<rect x="479.75" y="589.97" width="6.20" height="6.20" fill="#c5c9a2"/>
<polyline points="307.50,507.75 332.55,545.18 357.60,563.54 382.65,580.49 407.70,581.76 482.85,592.50" fill="none" stroke="#bc5e5c" stroke-width="1.9" stroke-linejoin="round"/>
<rect x="304.40" y="504.65" width="6.20" height="6.20" fill="#d0716c"/>
<rect x="329.45" y="542.08" width="6.20" height="6.20" fill="#d0716c"/>
<rect x="354.50" y="560.44" width="6.20" height="6.20" fill="#d0716c"/>
<rect x="379.55" y="577.39" width="6.20" height="6.20" fill="#d0716c"/>
<rect x="404.60" y="578.66" width="6.20" height="6.20" fill="#d0716c"/>
<rect x="479.75" y="589.40" width="6.20" height="6.20" fill="#d0716c"/>
<polyline points="307.50,507.75 332.55,547.30 357.60,564.82 382.65,574.70 407.70,580.49 482.85,599.99" fill="none" stroke="#9a0b2b" stroke-width="1.9" stroke-linejoin="round"/>
<circle cx="307.50" cy="507.75" r="3.10" fill="#b5102f"/>
<circle cx="332.55" cy="547.30" r="3.10" fill="#b5102f"/>
<circle cx="357.60" cy="564.82" r="3.10" fill="#b5102f"/>
<circle cx="382.65" cy="574.70" r="3.10" fill="#b5102f"/>
<circle cx="407.70" cy="580.49" r="3.10" fill="#b5102f"/>
<circle cx="482.85" cy="599.99" r="3.10" fill="#b5102f"/>
<line x1="312.70" y1="594.00" x2="329.00" y2="594.00" stroke="#000000" stroke-width="1.8" />
<path d="M321.20 590.80 L323.80 594.00 L321.20 597.20 L318.60 594.00Z" fill="#000000"/>
<text x="332.90" y="596.90" font-size="8.61" textLength="23.92" lengthAdjust="spacingAndGlyphs" text-anchor="start" font-weight="normal" fill="#161616" stroke-width="0.22" >sg-Luc</text>
<line x1="312.70" y1="604.90" x2="329.00" y2="604.90" stroke="#5c9e3c" stroke-width="1.8" />
<path d="M321.20 601.70 L324.40 607.30 L318.00 607.30Z" fill="#6cb04a"/>
<text x="332.90" y="607.80" font-size="8.61" textLength="45.63" lengthAdjust="spacingAndGlyphs" text-anchor="start" font-weight="normal" fill="#161616" stroke-width="0.22" >sg-Hoxa9-#4</text>
<line x1="312.70" y1="615.80" x2="329.00" y2="615.80" stroke="#bcc09a" stroke-width="1.8" />
<rect x="318.20" y="612.80" width="6.00" height="6.00" fill="#c5c9a2"/>
<text x="332.90" y="618.70" font-size="8.61" textLength="45.63" lengthAdjust="spacingAndGlyphs" text-anchor="start" font-weight="normal" fill="#161616" stroke-width="0.22" >sg-Hoxa9-#6</text>
<line x1="312.70" y1="626.70" x2="329.00" y2="626.70" stroke="#bc5e5c" stroke-width="1.8" />
<rect x="318.20" y="623.70" width="6.00" height="6.00" fill="#d0716c"/>
<text x="332.90" y="629.60" font-size="8.61" textLength="45.19" lengthAdjust="spacingAndGlyphs" text-anchor="start" font-weight="normal" fill="#161616" stroke-width="0.22" >sg-Zeb2-539</text>
<line x1="312.70" y1="637.60" x2="329.00" y2="637.60" stroke="#9a0b2b" stroke-width="1.8" />
<circle cx="321.20" cy="637.60" r="3.00" fill="#b5102f"/>
<text x="332.90" y="640.50" font-size="8.61" textLength="45.19" lengthAdjust="spacingAndGlyphs" text-anchor="start" font-weight="normal" fill="#161616" stroke-width="0.22" >sg-Zeb2-556</text>
<rect x="0.00" y="0.00" width="520.00" height="1.20" fill="#000" />
<rect x="0.00" y="0.00" width="1.40" height="687.00" fill="#000" />
<rect x="518.50" y="0.00" width="1.50" height="687.00" fill="#000" />
<rect x="0.00" y="685.20" width="520.00" height="1.80" fill="#000" />
</g>
</svg>
</body></html>
